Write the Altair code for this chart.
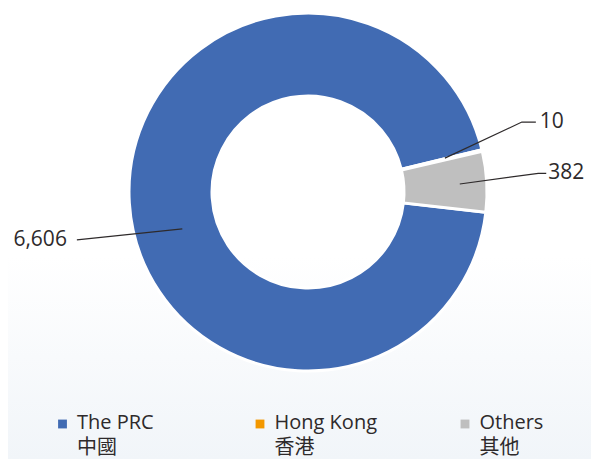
import math
import altair as alt
import pandas as pd

# ---- data ----
CATEGORIES = ["The PRC", "Hong Kong", "Others"]
CATEGORIES_ZH = ["中國", "香港", "其他"]
VALUES = [6606, 10, 382]
VALUE_LABELS = ["6,606", "10", "382"]
COLORS = ["#416bb3", "#f39800", "#bfbfbf"]

# ---- layout ----
W, H = 583, 451
CX, CY = 300, 184
R_OUT, R_IN = 179, 96
START_DEG = 96.5
TEXT_COLOR = "#2e2a2b"
FONT = "Open Sans, Noto Sans CJK TC, sans-serif"

# leader line layout per slice: anchor radius / angle shift, elbow radius / angle shift, tail length, side
LABEL_LAYOUT = [
    dict(ra=131, da=-12.8, re=236, de=-8.1, tail=0, side=-1, gap=10),
    dict(ra=141, da=-0.5, re=225, de=-4.7, tail=14, side=1, gap=4),
    dict(ra=152, da=0.3, re=231, de=-1.3, tail=8, side=1, gap=2),
]
LEGEND_X = [54.5, 252, 457]
LEGEND_SQ_Y = 416
LEGEND_TEXT_Y = 421

total = sum(VALUES)
cum = 0
mids = []
for v in VALUES:
    a0 = START_DEG + cum / total * 360
    cum += v
    a1 = START_DEG + cum / total * 360
    mids.append((a0 + a1) / 2)


def polar(r, deg):
    t = math.radians(deg)
    return CX + r * math.sin(t), CY - r * math.cos(t)


line_rows, text_rows = [], []
for i, (name, lab, m, L) in enumerate(zip(CATEGORIES, VALUE_LABELS, mids, LABEL_LAYOUT)):
    ax, ay = polar(L["ra"], m + L["da"])
    ex, ey = polar(L["re"], m + L["de"])
    pts = [(ax, ay), (ex, ey)]
    if L["tail"]:
        pts.append((ex + L["side"] * L["tail"], ey))
    for k, (px, py) in enumerate(pts):
        line_rows.append(dict(name=name, seq=k, x=px, y=py))
    endx, endy = pts[-1]
    text_rows.append(dict(label=lab, x=endx + L["side"] * L["gap"], y=endy,
                          side="right" if L["side"] < 0 else "left"))

slices = pd.DataFrame(dict(name=CATEGORIES, value=VALUES, idx=range(len(VALUES))))
lines = pd.DataFrame(line_rows)
texts = pd.DataFrame(text_rows)
legend = pd.DataFrame(dict(
    name=CATEGORIES,
    label=[f"{e}\n{z}" for e, z in zip(CATEGORIES, CATEGORIES_ZH)],
    x=LEGEND_X,
    tx=[x + 14.5 for x in LEGEND_X],
    y=[LEGEND_SQ_Y] * 3,
    ty=[LEGEND_TEXT_Y] * 3,
))

xs = alt.Scale(domain=[0, W], nice=False, zero=False)
ys = alt.Scale(domain=[0, H], nice=False, zero=False, reverse=True)
color = alt.Color("name:N", scale=alt.Scale(domain=CATEGORIES, range=COLORS), legend=None)

bg = alt.Chart(pd.DataFrame({"a": [0]})).mark_rect(
    color=alt.Gradient(
        gradient="linear",
        stops=[alt.GradientStop(color="#ffffff", offset=0),
               alt.GradientStop(color="#ffffff", offset=0.55),
               alt.GradientStop(color="#f1f5f9", offset=1)],
        x1=0, x2=0, y1=0, y2=1,
    )
).encode(x=alt.value(0), x2=alt.value("width"), y=alt.value(0), y2=alt.value("height"))

arcs = alt.Chart(slices).mark_arc(
    innerRadius=R_IN, outerRadius=R_OUT, stroke="white", strokeWidth=3
).encode(
    theta=alt.Theta("value:Q", stack=True,
                    scale=alt.Scale(range=[math.radians(START_DEG), math.radians(START_DEG) + 2 * math.pi])),
    order=alt.Order("idx:Q"),
    color=color,
    x=alt.value(CX),
    y=alt.value(CY),
)

leader = alt.Chart(lines).mark_line(color=TEXT_COLOR, strokeWidth=1.2).encode(
    x=alt.X("x:Q", scale=xs, axis=None),
    y=alt.Y("y:Q", scale=ys, axis=None),
    detail="name:N",
    order="seq:Q",
)

lab_r = alt.Chart(texts).transform_filter(alt.datum.side == "right").mark_text(
    align="right", baseline="middle", font=FONT, fontSize=21, color=TEXT_COLOR
).encode(x=alt.X("x:Q", scale=xs), y=alt.Y("y:Q", scale=ys), text="label:N")

lab_l = alt.Chart(texts).transform_filter(alt.datum.side == "left").mark_text(
    align="left", baseline="middle", font=FONT, fontSize=21, color=TEXT_COLOR
).encode(x=alt.X("x:Q", scale=xs), y=alt.Y("y:Q", scale=ys), text="label:N")

leg_sq = alt.Chart(legend).mark_square(size=78, opacity=1, filled=True).encode(
    x=alt.X("x:Q", scale=xs), y=alt.Y("y:Q", scale=ys), color=color
)
leg_tx = alt.Chart(legend).mark_text(
    align="left", baseline="alphabetic", font=FONT, fontSize=20, color=TEXT_COLOR,
    lineBreak="\n", lineHeight=25
).encode(x=alt.X("tx:Q", scale=xs), y=alt.Y("ty:Q", scale=ys), text="label:N")

chart = alt.layer(bg, arcs, leader, lab_r, lab_l, leg_sq, leg_tx).properties(
    width=W, height=H, padding=0, autosize="none", background="white"
).configure_view(stroke=None)

chart.save("out.html", embed_options={"renderer": "svg", "actions": False})
